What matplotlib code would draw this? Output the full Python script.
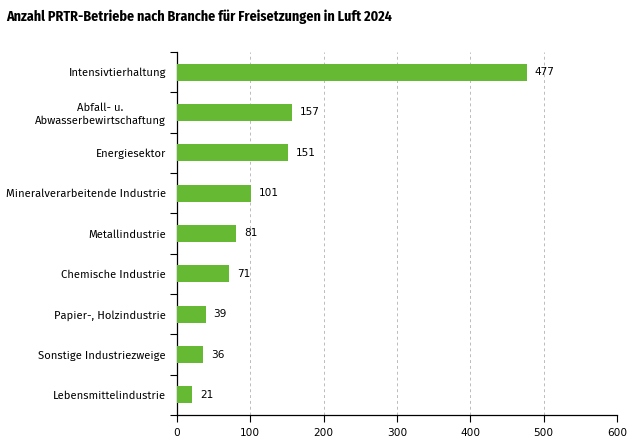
import matplotlib
matplotlib.use("Agg")
import matplotlib.pyplot as plt
import numpy as np

categories = ["Intensivtierhaltung", "Abfall- u.\nAbwasserbewirtschaftung", "Energiesektor",
              "Mineralverarbeitende Industrie", "Metallindustrie", "Chemische Industrie",
              "Papier-, Holzindustrie", "Sonstige Industriezweige", "Lebensmittelindustrie"]
values = [477, 157, 151, 101, 81, 71, 39, 36, 21]
xticks = [0, 100, 200, 300, 400, 500, 600]

plt.rcParams['font.family'] = ['Fira Sans', 'DejaVu Sans']
green = '#66b933'
fs = 8.1
numfs = 7.6
numfam = ['DejaVu Sans']

fig = plt.figure(figsize=(6.33, 4.44), dpi=100)
ax = fig.add_axes([0.2796, 0.0653, 0.6951, 0.8176])

n = len(categories)
y = np.arange(n)
ax.barh(y, values, height=0.42, color=green, zorder=3)
for yi, v in zip(y, values):
    ax.text(v + 11, yi, str(v), va='center', ha='left', fontsize=numfs, family=numfam, color='black')

ax.set_ylim(n - 0.5, -0.5)
ax.set_xlim(0, 600)
ax.set_xticks(xticks)
ax.set_xticklabels([str(t) for t in xticks], fontsize=numfs, family=numfam)
ax.set_yticks(y)
ax.set_yticklabels(categories, fontsize=fs, ha='right', multialignment='center')
ax.set_yticks(np.arange(-0.5, n, 1), minor=True)
ax.tick_params(axis='y', which='major', length=0, pad=8)
ax.tick_params(axis='y', which='minor', length=5, width=0.8, direction='out')
ax.tick_params(axis='x', length=5, width=0.8, direction='out', pad=4)

ax.grid(axis='x', linestyle=(0, (3, 3)), color='#bbbbbb', linewidth=0.7, zorder=0)
for s in ['top', 'right']:
    ax.spines[s].set_visible(False)
ax.spines['left'].set_linewidth(0.9)
ax.spines['bottom'].set_linewidth(0.9)

fig.text(0.010, 0.962, "Anzahl PRTR-Betriebe nach Branche für Freisetzungen in Luft 2024",
         fontsize=10.1, fontweight='bold', family=['Fira Sans Condensed', 'DejaVu Sans'],
         ha='left', va='center')

fig.savefig("out.png", dpi=100)
